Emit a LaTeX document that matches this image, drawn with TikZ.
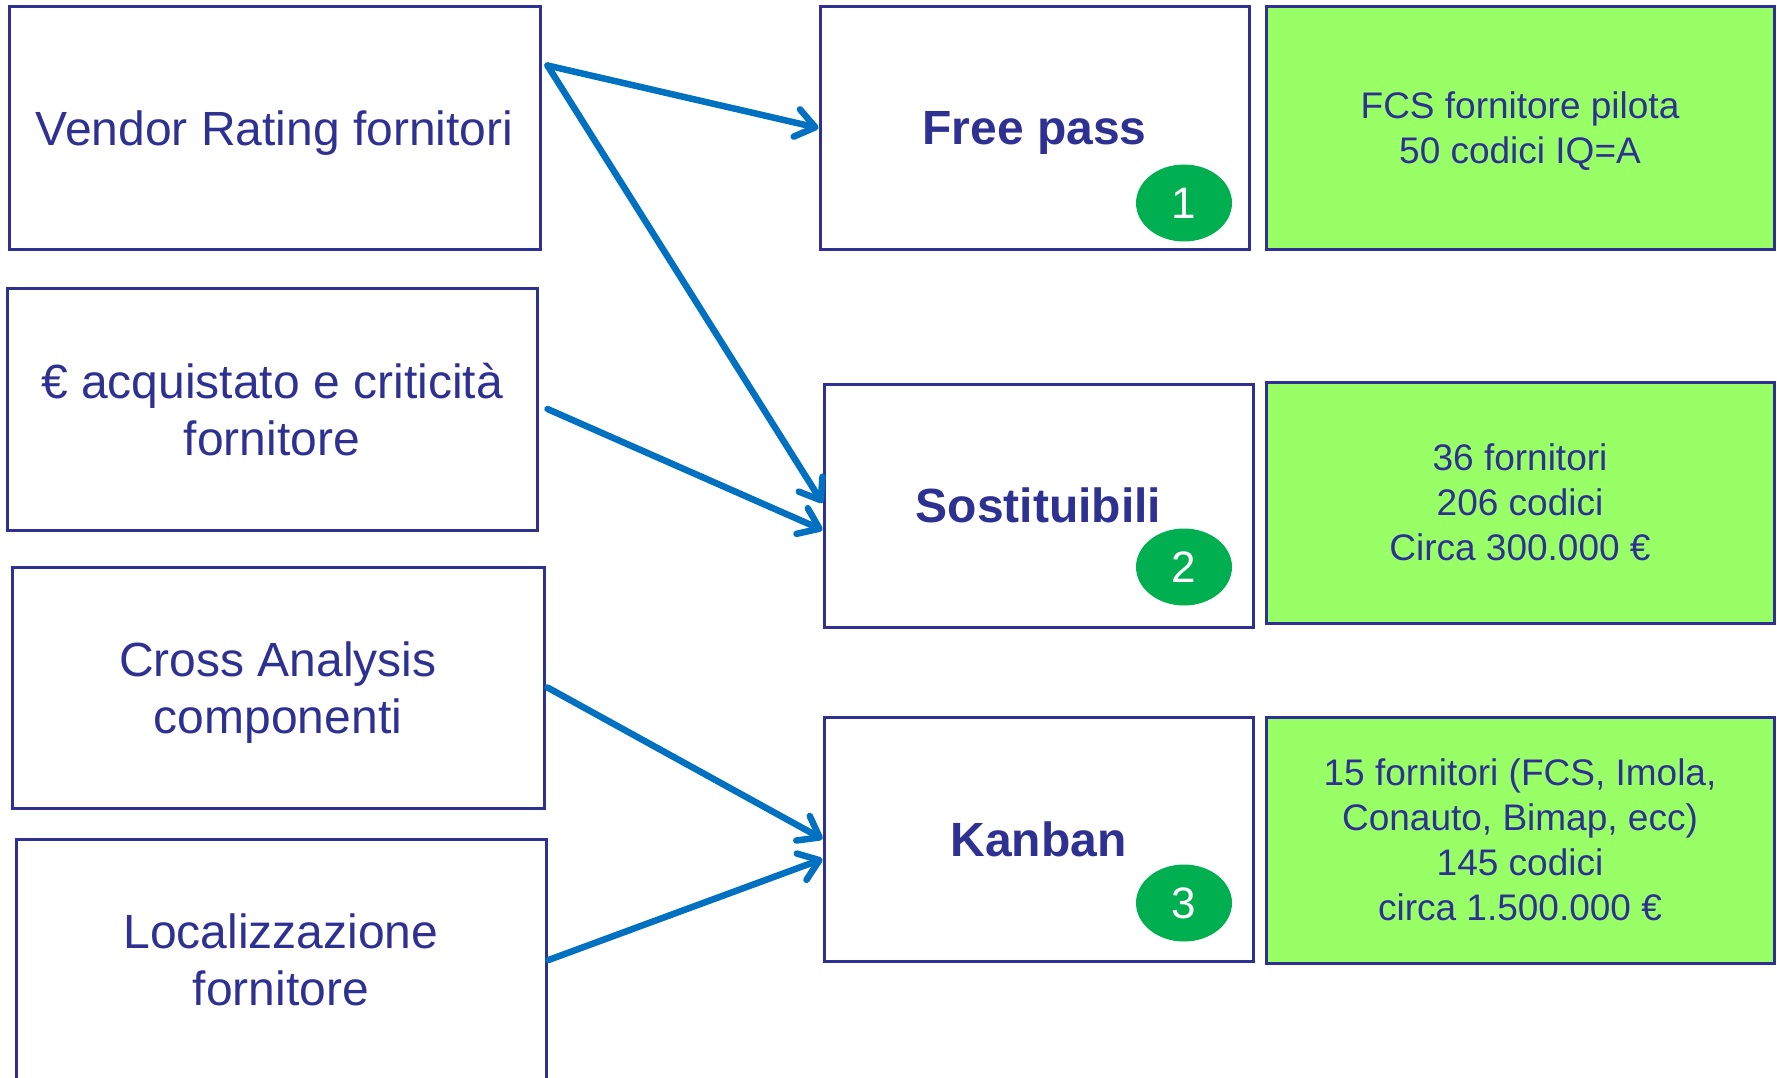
\documentclass[tikz,border=0pt]{standalone}
\usepackage{fontspec}
\setmainfont{Liberation Sans}
\usetikzlibrary{arrows.meta,shapes.geometric}
\definecolor{navy}{RGB}{46,49,146}
\definecolor{flowblue}{RGB}{0,112,192}
\definecolor{lime}{RGB}{153,255,102}
\definecolor{badgegreen}{RGB}{0,176,80}
\begin{document}
\begin{tikzpicture}[x=1pt,y=-1pt,
  box/.style={draw=navy,line width=3pt,rectangle,inner sep=0pt,
    text=navy,align=center,text depth=0pt,
    font=\fontsize{48}{57}\selectfont},
  source/.style={box},
  target/.style={box,font=\fontsize{48}{57}\selectfont\bfseries,
    minimum width=429pt},
  result/.style={box,fill=lime,minimum width=508pt,
    font=\fontsize{37}{45}\selectfont},
  badge/.style={ellipse,fill=badgegreen,text=white,inner sep=0pt,
    text depth=0pt,minimum width=96pt,minimum height=77pt,
    font=\fontsize{44}{44}\selectfont},
  flow/.style={draw=flowblue,line width=6.5pt,line cap=round,
    -{Straight Barb[length=19pt,width=28pt,round]}}
]
\useasboundingbox (0,0) rectangle (1777,1078);

% criteria on the left
\node[source,minimum width=531pt,minimum height=242pt] (vendor) at (274.5,128)
  {Vendor Rating fornitori};
\node[source,minimum width=530pt,minimum height=242pt] (acq) at (272,409)
  {€ acquistato e criticità\\fornitore};
\node[source,minimum width=532pt,minimum height=241pt] (cross) at (278,687.5)
  {Cross Analysis\\componenti};
\node[source,minimum width=530pt,minimum height=242pt] (loc) at (281,960)
  {Localizzazione\\fornitore};

% categories
\node[target,minimum height=242pt] (free) at (1034.5,128) {Free pass};
\node[target,minimum height=243pt] (sost) at (1038.5,505.5) {Sostituibili};
\node[target,minimum height=244pt] (kanban) at (1038.5,839) {Kanban};

% numbered badges
\node[badge] (b1) at (1184,203) {1};
\node[badge] (b2) at (1184,567) {2};
\node[badge] (b3) at (1184,903) {3};

% results
\node[result,minimum height=242pt] (r1) at (1520,128)
  {FCS fornitore pilota\\50 codici IQ=A};
\node[result,minimum height=241pt] (r2) at (1520,502.5)
  {36 fornitori\\206 codici\\Circa 300.000 €};
\node[result,minimum height=246pt] (r3) at (1520,840)
  {15 fornitori (FCS, Imola,\\Conauto, Bimap, ecc)\\145 codici\\circa 1.500.000 €};

% connector start points
\coordinate (vendor-out) at ([xshift=6pt,yshift=-60pt]vendor.north east);
\coordinate (acq-out) at ([xshift=9pt]acq.east);
\coordinate (cross-out) at ([xshift=2pt]cross.east);
\coordinate (loc-out) at ([xshift=1pt]loc.east);

% connectors
\draw[flow] (vendor-out) -- (free.west);
\draw[flow] (vendor-out) -- ([yshift=2.5pt]sost.west);
\draw[flow] (acq-out) -- ([yshift=-24.5pt]sost.west);
\draw[flow] (cross-out) -- (kanban.west);
\draw[flow] (loc-out) -- ([yshift=-20pt]kanban.west);
\end{tikzpicture}
\end{document}
